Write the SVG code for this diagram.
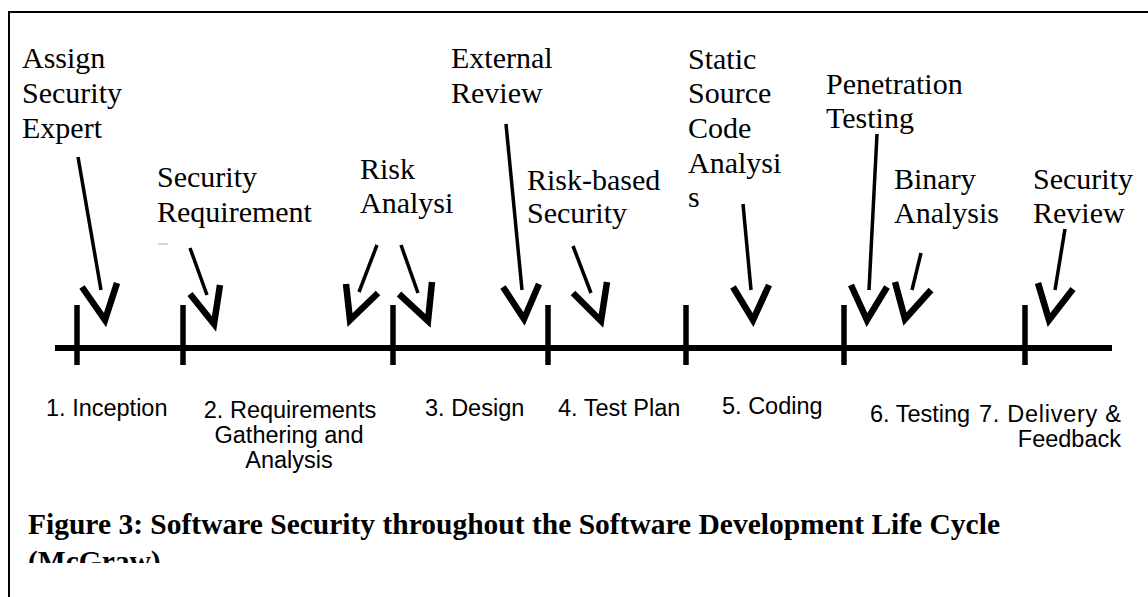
<svg xmlns="http://www.w3.org/2000/svg" width="1148" height="597" viewBox="0 0 1148 597">
  <style>
    .note { font-family: "Liberation Serif", "Times New Roman", serif; font-size: 30px; fill: #000; }
    .phase { font-family: "Liberation Sans", Arial, sans-serif; font-size: 23.5px; fill: #000; }
    .caption { font-family: "Liberation Serif", "Times New Roman", serif; font-size: 29.5px; font-weight: bold; fill: #000; }
    .shaft { stroke: #000; stroke-width: 3.5; fill: none; }
    .head { stroke: #000; stroke-width: 6.5; fill: none; stroke-linejoin: miter; stroke-miterlimit: 10; }
    .axis { stroke: #000; stroke-width: 6; }
    .tick { stroke: #000; stroke-width: 5.5; }
  </style>
  <defs>
    <clipPath id="captionClip">
      <rect x="0" y="0" width="1148" height="563"/>
    </clipPath>
  </defs>

  <rect x="0" y="0" width="1148" height="597" fill="#fff"/>
  <!-- frame -->
  <rect x="9" y="12" width="1200" height="700" fill="none" stroke="#000" stroke-width="2"/>

  <!-- timeline axis and phase ticks -->
  <g id="timeline">
    <line class="axis" x1="55" y1="348" x2="1112" y2="348"/>
    <line class="tick" x1="77" y1="305" x2="77" y2="365"/>
    <line class="tick" x1="183" y1="305" x2="183" y2="365"/>
    <line class="tick" x1="393" y1="305" x2="393" y2="365"/>
    <line class="tick" x1="548" y1="305" x2="548" y2="365"/>
    <line class="tick" x1="686" y1="305" x2="686" y2="365"/>
    <line class="tick" x1="844" y1="305" x2="844" y2="365"/>
    <line class="tick" x1="1025" y1="305" x2="1025" y2="365"/>
  </g>

  <!-- activity labels -->
  <g id="assign-expert">
    <text class="note" x="22" y="68">Assign</text>
    <text class="note" x="22" y="103">Security</text>
    <text class="note" x="22" y="138">Expert</text>
  </g>
  <g id="security-requirement">
    <text class="note" x="157" y="187">Security</text>
    <text class="note" x="157" y="222">Requirement</text>
    <line x1="158" y1="244" x2="168" y2="244" stroke="#c8c8c8" stroke-width="1.5"/>
  </g>
  <g id="risk-analysis">
    <text class="note" x="360" y="179">Risk</text>
    <text class="note" x="360" y="213">Analysi</text>
  </g>
  <g id="external-review">
    <text class="note" x="451" y="68">External</text>
    <text class="note" x="451" y="103">Review</text>
  </g>
  <g id="risk-based-security">
    <text class="note" x="527" y="190">Risk-based</text>
    <text class="note" x="527" y="223">Security</text>
  </g>
  <g id="static-analysis">
    <text class="note" x="688" y="69">Static</text>
    <text class="note" x="688" y="103">Source</text>
    <text class="note" x="688" y="138">Code</text>
    <text class="note" x="688" y="173">Analysi</text>
    <text class="note" x="688" y="207">s</text>
  </g>
  <g id="penetration-testing">
    <text class="note" x="826" y="94">Penetration</text>
    <text class="note" x="826" y="128">Testing</text>
  </g>
  <g id="binary-analysis">
    <text class="note" x="894" y="189">Binary</text>
    <text class="note" x="894" y="223">Analysis</text>
  </g>
  <g id="security-review">
    <text class="note" x="1033" y="189">Security</text>
    <text class="note" x="1033" y="223">Review</text>
  </g>

  <!-- phase labels -->
  <g id="phase-1"><text class="phase" x="46" y="416">1. Inception</text></g>
  <g id="phase-2" text-anchor="middle">
    <text class="phase" x="290" y="418">2. Requirements</text>
    <text class="phase" x="289" y="443">Gathering and</text>
    <text class="phase" x="289" y="468">Analysis</text>
  </g>
  <g id="phase-3"><text class="phase" x="425" y="416">3. Design</text></g>
  <g id="phase-4"><text class="phase" x="558" y="416">4. Test Plan</text></g>
  <g id="phase-5"><text class="phase" x="722" y="414">5. Coding</text></g>
  <g id="phase-6"><text class="phase" x="870" y="422">6. Testing</text></g>
  <g id="phase-7">
    <text class="phase" x="979" y="422" textLength="142" lengthAdjust="spacing">7. Delivery &amp;</text>
    <text class="phase" x="1121" y="447" text-anchor="end">Feedback</text>
  </g>

  <!-- pointer arrows -->
  <g id="connectors">
    <line class="shaft" x1="78" y1="157" x2="101" y2="290"/>
    <polyline class="head" points="82,287 105,320 117,283"/>

    <line class="shaft" x1="190" y1="248" x2="207" y2="295"/>
    <polyline class="head" points="190,294 214,324 220,285"/>

    <line class="shaft" x1="377" y1="245" x2="359" y2="292"/>
    <polyline class="head" points="346,284 350,320 378,293"/>

    <line class="shaft" x1="401" y1="245" x2="418" y2="293"/>
    <polyline class="head" points="399,294 428,321 432,282"/>

    <line class="shaft" x1="506" y1="124" x2="522" y2="290"/>
    <polyline class="head" points="503,287 524,319 539,284"/>

    <line class="shaft" x1="573" y1="246" x2="591" y2="293"/>
    <polyline class="head" points="573,293 601,321 607,282"/>

    <line class="shaft" x1="743" y1="204" x2="751" y2="290"/>
    <polyline class="head" points="733,287 753,320 769,285"/>

    <line class="shaft" x1="877" y1="134" x2="869" y2="290"/>
    <polyline class="head" points="851,285 867,320 887,287"/>

    <line class="shaft" x1="921" y1="253" x2="912" y2="290"/>
    <polyline class="head" points="895,282 905,319 931,290"/>

    <line class="shaft" x1="1065" y1="229" x2="1055" y2="290"/>
    <polyline class="head" points="1038,283 1049,320 1073,289"/>
  </g>

  <!-- caption; the second line is cut off at the bottom of the text area -->
  <g id="caption" clip-path="url(#captionClip)">
    <text class="caption" x="28" y="534">Figure 3: Software Security throughout the Software Development Life Cycle</text>
    <text class="caption" x="28" y="571">(McGraw)</text>
  </g>
</svg>
